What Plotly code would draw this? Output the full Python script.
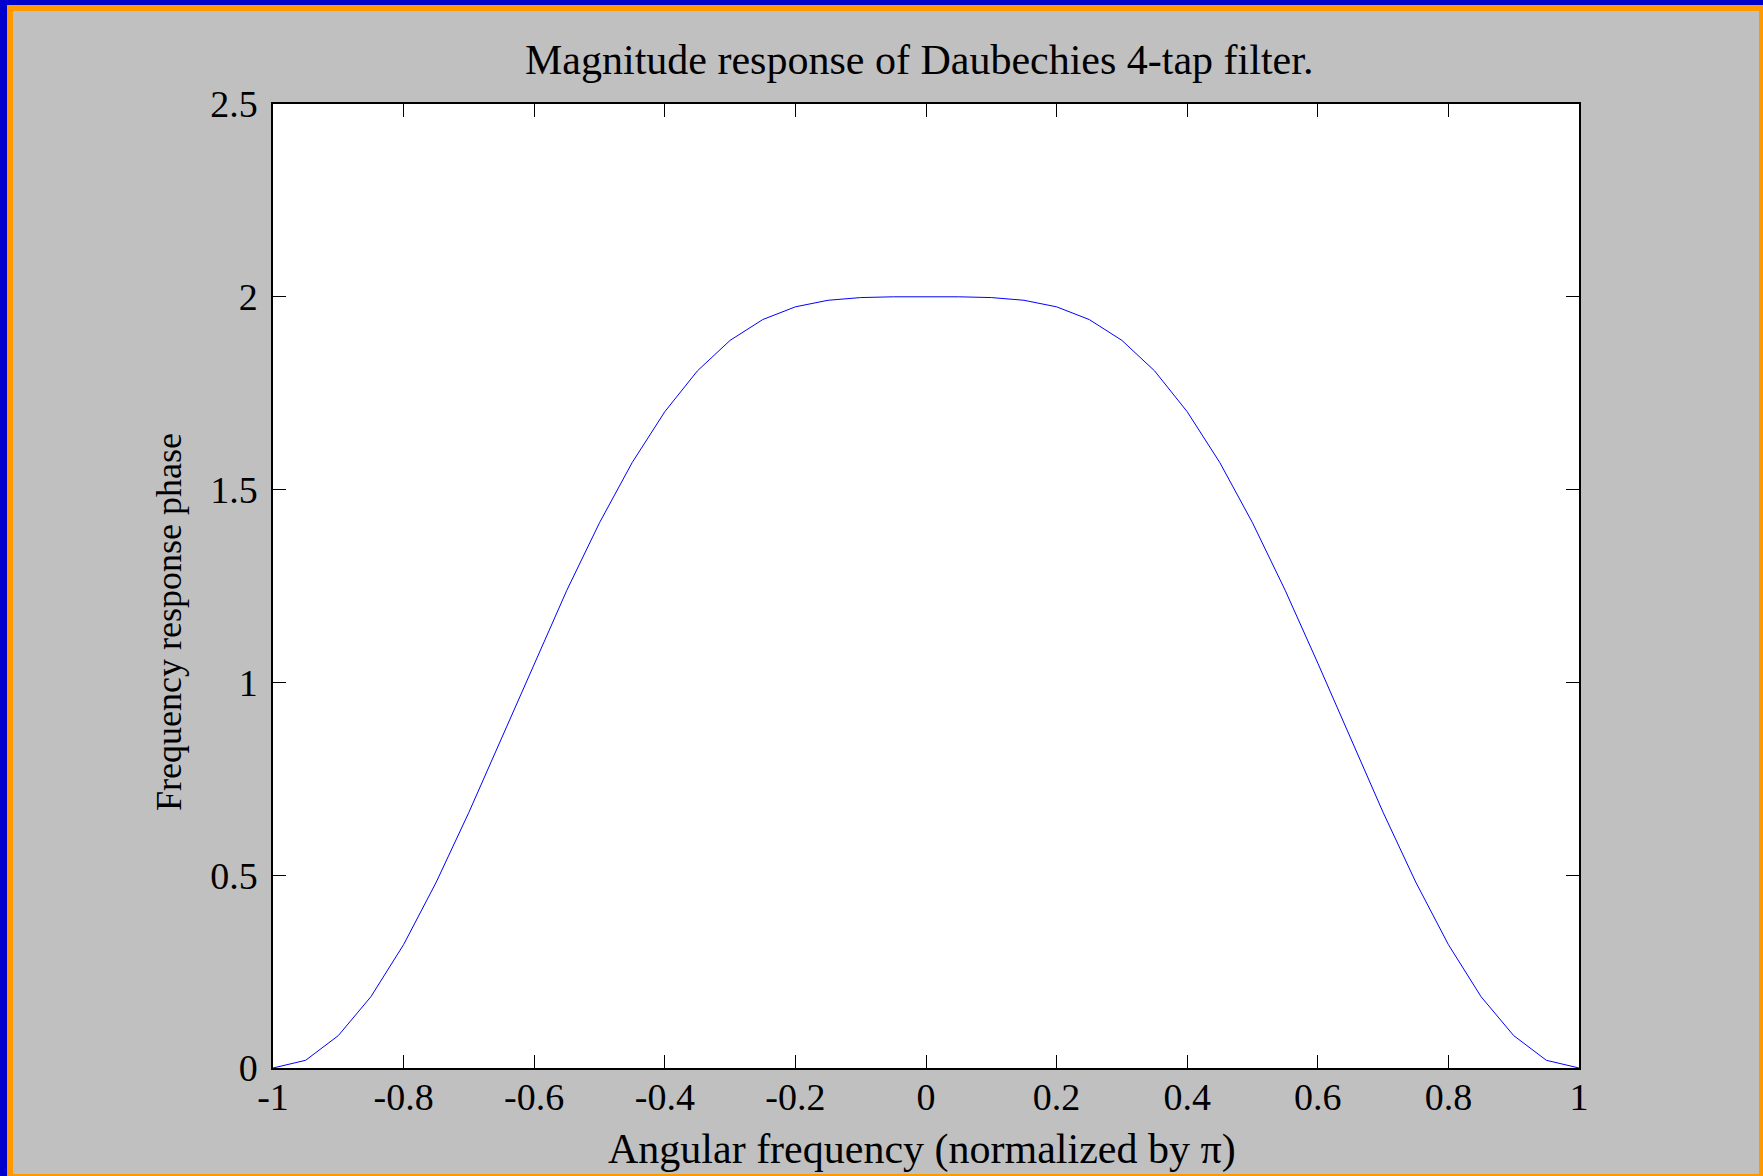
import plotly.graph_objects as go

freq = [-1.00, -0.95, -0.90, -0.85, -0.80, -0.75, -0.70, -0.65, -0.60, -0.55, -0.50,
        -0.45, -0.40, -0.35, -0.30, -0.25, -0.20, -0.15, -0.10, -0.05, 0.00,
        0.05, 0.10, 0.15, 0.20, 0.25, 0.30, 0.35, 0.40, 0.45, 0.50,
        0.55, 0.60, 0.65, 0.70, 0.75, 0.80, 0.85, 0.90, 0.95, 1.00]
magnitude = [0.000, 0.020, 0.084, 0.185, 0.320, 0.482, 0.663, 0.855, 1.050, 1.239, 1.414,
             1.570, 1.702, 1.808, 1.887, 1.941, 1.974, 1.991, 1.998, 2.000, 2.000,
             2.000, 1.998, 1.991, 1.974, 1.941, 1.887, 1.808, 1.702, 1.570, 1.414,
             1.239, 1.050, 0.855, 0.663, 0.482, 0.320, 0.185, 0.084, 0.020, 0.000]
x_ticks = [-1, -0.8, -0.6, -0.4, -0.2, 0, 0.2, 0.4, 0.6, 0.8, 1]
x_tick_text = ["-1", "-0.8", "-0.6", "-0.4", "-0.2", "0", "0.2", "0.4", "0.6", "0.8", "1"]
y_ticks = [0, 0.5, 1, 1.5, 2, 2.5]
y_tick_text = ["0", "0.5", "1", "1.5", "2", "2.5"]

title_text = "Magnitude response of Daubechies 4-tap filter."
x_title = "Angular frequency (normalized by \u03c0)"
y_title = "Frequency response phase"

W, H = 1763, 1176
L, R, T, B = 273, 184, 104, 108
PW, PH = W - L - R, H - T - B

def px(x):
    return (x - L) / PW

def py(y):
    return (H - B - y) / PH

FONT = "Liberation Serif, Times New Roman, serif"

fig = go.Figure()
fig.add_trace(go.Scatter(x=freq, y=magnitude, mode="lines",
                         line=dict(color="#0000ff", width=1), showlegend=False))

axis_common = dict(showgrid=False, zeroline=False, showline=True, linecolor="black",
                   linewidth=1.5, mirror="ticks", ticks="inside", ticklen=13,
                   tickcolor="black", tickwidth=1,
                   tickfont=dict(family=FONT, size=38, color="black"))

fig.update_xaxes(range=[-1, 1], tickvals=x_ticks, ticktext=x_tick_text,
                 ticklabelstandoff=-5, **axis_common)
fig.update_yaxes(range=[0, 2.5], tickvals=y_ticks, ticktext=y_tick_text,
                 ticklabelstandoff=6, **axis_common)

def strip(x0, x1, y0, y1, color):
    return dict(type="rect", xref="paper", yref="paper", x0=px(x0), x1=px(x1),
                y0=py(y1), y1=py(y0), fillcolor=color, line=dict(width=0), layer="above")

ORANGE = "#ff9900"
BLUE = "#0000cc"
shapes = [
    strip(7, W, 5, 11, ORANGE),        # orange top
    strip(7, 13, 5, H, ORANGE),        # orange left
    strip(1759, W, 5, H, ORANGE),      # orange right
    strip(7, W, 1174, H, ORANGE),      # orange bottom
    strip(0, W, 0, 5, BLUE),           # blue top
    strip(0, 7, 0, H, BLUE),           # blue left
]

annotations = [
    dict(text=title_text, xref="paper", yref="paper", x=px(919), y=py(60),
         xanchor="center", yanchor="middle", showarrow=False,
         font=dict(family=FONT, size=42, color="black")),
    dict(text=x_title, xref="paper", yref="paper", x=px(922), y=py(1149),
         xanchor="center", yanchor="middle", showarrow=False,
         font=dict(family=FONT, size=42, color="black")),
    dict(text=y_title, xref="paper", yref="paper", x=px(169), y=py(622),
         xanchor="center", yanchor="middle", showarrow=False, textangle=-90,
         font=dict(family=FONT, size=36, color="black")),
]

fig.update_layout(width=W, height=H, margin=dict(l=L, r=R, t=T, b=B, autoexpand=False),
                  paper_bgcolor="#c0c0c0", plot_bgcolor="white",
                  shapes=shapes, annotations=annotations, showlegend=False)

fig.write_html("out.html", config={"displayModeBar": False},
               post_script="document.body.style.margin='0';document.body.style.overflow='hidden';")
